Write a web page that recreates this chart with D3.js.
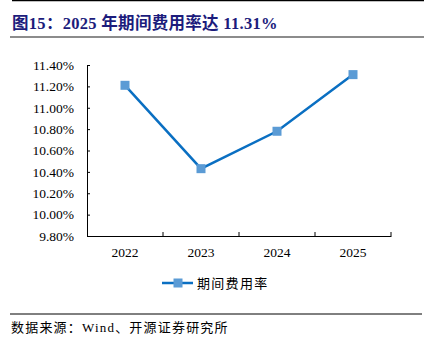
<!DOCTYPE html>
<html><head><meta charset="utf-8">
<script src="https://cdn.jsdelivr.net/npm/d3@7/dist/d3.min.js"></script>
<style>body{margin:0;background:#fff}svg{display:block}</style>
</head><body>
<script>
const categories = ["2022","2023","2024","2025"];
const values = [11.21, 10.43, 10.78, 11.31];
const yTicks = [9.8, 10.0, 10.2, 10.4, 10.6, 10.8, 11.0, 11.2, 11.4];
const seriesName = "期间费用率";
const title = "图15：2025 年期间费用率达 11.31%";
const source = "数据来源：Wind、开源证券研究所";

const W = 424, H = 346;
const svg = d3.select("body").append("svg").attr("width", W).attr("height", H);
const serif = "'Liberation Serif','Times New Roman','Noto Sans CJK SC',serif";
const cjk = "'Liberation Serif','Noto Sans CJK SC',serif";

svg.append("line").attr("x1",12).attr("x2",W).attr("y1",0.5).attr("y2",0.5).attr("stroke","#000").attr("stroke-width",1.5);
svg.append("text").attr("x",12).attr("y",28.5).text(title)
  .attr("font-family",cjk).attr("font-weight","bold").attr("font-size",16.5).attr("letter-spacing",0.3).attr("fill","#1c1c7c");
svg.append("line").attr("x1",10).attr("x2",W).attr("y1",37).attr("y2",37).attr("stroke","#8c8c8c").attr("stroke-width",2);

const x = d3.scaleBand().domain(categories).range([87, 391]);
const y = d3.scaleLinear().domain([9.8, 11.4]).range([236, 65]);

const gy = svg.append("g").attr("transform","translate(87,0)")
  .call(d3.axisLeft(y).tickValues(yTicks).tickSizeInner(-3).tickSizeOuter(0).tickPadding(13).tickFormat(d => d.toFixed(2)+"%"));
gy.select(".domain").attr("stroke","#000");
gy.selectAll(".tick line").attr("stroke","#000");
gy.selectAll("text").attr("font-family",serif).attr("font-size",13.5).attr("fill","#000");

const gx = svg.append("g").attr("transform","translate(0,236)")
  .call(d3.axisBottom(x).tickSize(0).tickPadding(11));
gx.select(".domain").attr("stroke","#000");
gx.selectAll("text").attr("font-family",serif).attr("font-size",13.5).attr("fill","#000");
// inward ticks at band boundaries
svg.append("g").selectAll("line").data(categories).join("line")
  .attr("x1", d => x(d)+x.bandwidth()).attr("x2", d => x(d)+x.bandwidth())
  .attr("y1",236).attr("y2",232).attr("stroke","#000");

const line = d3.line().x((d,i)=>x(categories[i])+x.bandwidth()/2).y(d=>y(d));
svg.append("path").datum(values).attr("d",line).attr("fill","none").attr("stroke","#0a6fc2").attr("stroke-width",2.5);
svg.append("g").selectAll("rect").data(values).join("rect")
  .attr("x",(d,i)=>x(categories[i])+x.bandwidth()/2-4.5).attr("y",d=>y(d)-4.5)
  .attr("width",9).attr("height",9).attr("fill","#5b9bd5");

// legend
svg.append("line").attr("x1",162).attr("x2",193).attr("y1",283).attr("y2",283).attr("stroke","#0a6fc2").attr("stroke-width",2.5);
svg.append("rect").attr("x",173.5).attr("y",278.5).attr("width",9).attr("height",9).attr("fill","#5b9bd5");
svg.append("text").attr("x",197).attr("y",288).text(seriesName)
  .attr("font-family",cjk).attr("font-size",13).attr("letter-spacing",1.3).attr("fill","#000");

svg.append("line").attr("x1",10).attr("x2",422).attr("y1",314).attr("y2",314).attr("stroke","#000").attr("stroke-width",1);
svg.append("text").attr("x",11).attr("y",332).text(source)
  .attr("font-family",cjk).attr("font-size",13).attr("letter-spacing",1.2).attr("fill","#000");
</script>
</body></html>
